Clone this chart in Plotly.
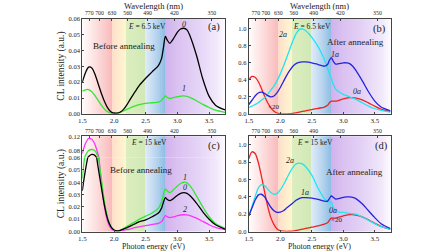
import plotly.graph_objects as go

# ---------------- data ----------------
energy = [1.50, 1.55, 1.60, 1.65, 1.70, 1.75, 1.80, 1.85, 1.90, 1.95, 2.00, 2.05, 2.10, 2.15,
          2.20, 2.25, 2.30, 2.35, 2.40, 2.50, 2.60, 2.70, 2.75, 2.78, 2.81, 2.84, 2.88, 2.93,
          3.00, 3.05, 3.10, 3.15, 3.20, 3.30, 3.40, 3.50, 3.60, 3.75]

# (a) E = 6.5 keV, before annealing
a_0 = [0.020, 0.026, 0.0295, 0.029, 0.025, 0.019, 0.013, 0.0078, 0.0038, 0.0014, 0.0005, 0.0005,
       0.0012, 0.0028, 0.0055, 0.0088, 0.012, 0.015, 0.018, 0.0225, 0.0265, 0.0305, 0.035, 0.042,
       0.0488, 0.0465, 0.0445, 0.047, 0.0515, 0.0535, 0.054, 0.053, 0.049, 0.037, 0.022, 0.011,
       0.0055, 0.0025]
a_1 = [0.0143, 0.0152, 0.0153, 0.0140, 0.0115, 0.0085, 0.0055, 0.0030, 0.0013, 0.0004, 0.0002,
       0.0004, 0.0010, 0.0018, 0.0028, 0.0037, 0.0045, 0.0052, 0.0058, 0.0066, 0.0070, 0.0074,
       0.0085, 0.0100, 0.0113, 0.0103, 0.0097, 0.0102, 0.0108, 0.0112, 0.0113, 0.0111, 0.0103,
       0.0083, 0.0060, 0.0040, 0.0023, 0.0010]
# (b) E = 6.5 keV, after annealing
b_2a = [0.075, 0.09, 0.11, 0.13, 0.16, 0.19, 0.23, 0.28, 0.33, 0.39, 0.47, 0.56, 0.66, 0.76, 0.86,
        0.94, 0.99, 1.0, 0.98, 0.90, 0.79, 0.64, 0.54, 0.47, 0.42, 0.35, 0.29, 0.26, 0.23, 0.215,
        0.20, 0.185, 0.17, 0.13, 0.09, 0.06, 0.04, 0.02]
b_1a = [0.11, 0.16, 0.21, 0.245, 0.255, 0.24, 0.215, 0.20, 0.21, 0.25, 0.31, 0.38, 0.45, 0.51,
        0.56, 0.59, 0.605, 0.61, 0.61, 0.60, 0.58, 0.56, 0.58, 0.63, 0.66, 0.62, 0.585, 0.59, 0.60,
        0.60, 0.59, 0.56, 0.51, 0.39, 0.26, 0.15, 0.08, 0.035]
b_0a = [0.40, 0.44, 0.43, 0.38, 0.30, 0.21, 0.13, 0.07, 0.03, 0.01, 0.003, 0.0, 0.0, 0.002, 0.005,
        0.012, 0.02, 0.028, 0.035, 0.05, 0.065, 0.08, 0.10, 0.13, 0.15, 0.15, 0.15, 0.16, 0.175,
        0.185, 0.19, 0.19, 0.185, 0.165, 0.13, 0.09, 0.055, 0.025]
# (c) E = 15 keV, before annealing
c_0 = [0.033, 0.050, 0.063, 0.069, 0.066, 0.052, 0.036, 0.021, 0.010, 0.004, 0.0012, 0.0005,
       0.001, 0.002, 0.003, 0.0042, 0.0055, 0.0068, 0.008, 0.0095, 0.012, 0.015, 0.019, 0.024,
       0.0275, 0.026, 0.025, 0.0265, 0.0295, 0.031, 0.0315, 0.031, 0.029, 0.023, 0.016, 0.010,
       0.0055, 0.002]
c_1 = [0.043, 0.066, 0.080, 0.083, 0.079, 0.062, 0.043, 0.024, 0.011, 0.004, 0.0012, 0.0005,
       0.0012, 0.0025, 0.004, 0.0055, 0.007, 0.0085, 0.010, 0.0125, 0.015, 0.019, 0.024, 0.030,
       0.0345, 0.033, 0.0315, 0.0335, 0.037, 0.039, 0.040, 0.0395, 0.037, 0.029, 0.020, 0.012,
       0.0065, 0.0025]
c_2 = [0.072, 0.100, 0.114, 0.112, 0.097, 0.068, 0.040, 0.020, 0.008, 0.0025, 0.0006, 0.0003,
       0.0006, 0.001, 0.0015, 0.002, 0.0027, 0.0033, 0.0038, 0.0048, 0.0057, 0.0066, 0.008,
       0.0105, 0.0128, 0.012, 0.0113, 0.0118, 0.0128, 0.0134, 0.0136, 0.0135, 0.0128, 0.0108,
       0.0082, 0.0055, 0.0033, 0.0015]
# (d) E = 15 keV, after annealing
d_0a = [0.84, 0.92, 0.90, 0.80, 0.64, 0.46, 0.29, 0.16, 0.08, 0.03, 0.01, 0.004, 0.002, 0.003,
        0.005, 0.012, 0.02, 0.028, 0.035, 0.05, 0.065, 0.085, 0.10, 0.13, 0.155, 0.155, 0.155,
        0.165, 0.18, 0.19, 0.195, 0.195, 0.19, 0.17, 0.135, 0.095, 0.06, 0.025]
d_2a = [0.18, 0.29, 0.40, 0.50, 0.54, 0.53, 0.49, 0.45, 0.43, 0.44, 0.48, 0.54, 0.61, 0.68, 0.74,
        0.78, 0.79, 0.78, 0.75, 0.65, 0.50, 0.38, 0.34, 0.345, 0.34, 0.28, 0.245, 0.225, 0.22,
        0.215, 0.21, 0.205, 0.20, 0.17, 0.13, 0.09, 0.055, 0.025]
d_1a = [0.18, 0.27, 0.36, 0.42, 0.43, 0.40, 0.34, 0.28, 0.24, 0.22, 0.225, 0.24, 0.27, 0.30, 0.33,
        0.36, 0.38, 0.39, 0.39, 0.385, 0.37, 0.35, 0.35, 0.38, 0.41, 0.395, 0.375, 0.38, 0.395,
        0.40, 0.40, 0.395, 0.38, 0.32, 0.24, 0.16, 0.09, 0.035]

energy_ticks = [1.5, 2.0, 2.5, 3.0, 3.5]
wavelength_ticks = [770, 700, 630, 560, 490, 420, 350]

# background spectral colour stops (energy, rgb); repeated energies = band edges
spectrum_stops = [
    (1.50, (255, 252, 252)), (1.70, (253, 225, 225)), (1.90, (250, 196, 196)), (1.97, (249, 186, 188)),
    (1.97, (253, 222, 204)), (2.08, (255, 236, 205)), (2.18, (255, 246, 208)),
    (2.18, (220, 238, 192)), (2.48, (210, 232, 182)),
    (2.48, (226, 237, 249)), (2.65, (188, 214, 239)), (2.80, (142, 190, 229)),
    (2.80, (208, 178, 236)), (3.00, (219, 194, 241)), (3.30, (228, 210, 246)),
    (3.60, (241, 232, 251)), (3.75, (253, 251, 255)),
]

# ---------------- figure ----------------
W, H = 448, 252
SERIF = "Liberation Serif"
TXT = "#222222"
AX = "#444444"

def fx(p):
    return p / W

def fy(p):
    return 1 - p / H

XA = [fx(79), fx(223)]
XB = [fx(247), fx(390)]
YTOP = [fy(113), fy(15)]
YC_LO = [fy(234), fy(158)]
YC_HI = [fy(158), fy(136)]
YD = [fy(234), fy(136)]

fig = go.Figure()

# background gradient as heatmap
step = 0.01
n = int(round((3.75 - 1.5) / step))
centers = [1.5 + step * (i + 0.5) for i in range(n)]

def color_at(e):
    for i in range(len(spectrum_stops) - 1):
        e0, c0 = spectrum_stops[i]
        e1, c1 = spectrum_stops[i + 1]
        if e0 <= e <= e1 and e1 > e0:
            t = (e - e0) / (e1 - e0)
            return tuple(int(round(c0[k] + (c1[k] - c0[k]) * t)) for k in range(3))
    return spectrum_stops[-1][1]

cols = [color_at(e) for e in centers]
cscale = [[i / (n - 1), "rgb(%d,%d,%d)" % c] for i, c in enumerate(cols)]
zrow = list(range(n))

def background(xa, ya, lo, hi):
    fig.add_trace(go.Heatmap(x=centers, y=[lo, hi], z=[zrow, zrow], colorscale=cscale,
                             zmin=0, zmax=n - 1, showscale=False, hoverinfo="skip",
                             zsmooth=False, xaxis=xa, yaxis=ya))

background("x", "y", 0, 0.06)
background("x3", "y2", 0, 1.12)
background("x5", "y3", 0, 0.06)
background("x5", "y4", 0.06, 0.12)
background("x7", "y5", 0, 1.1)

BLACK = "#000000"
GREEN = "#33e633"
MAGENTA = "#ff33ff"
BLUE = "#2424e0"
CYAN = "#1ee6f0"
RED = "#ee2222"

def curve(y, color, xa, ya):
    fig.add_trace(go.Scatter(x=energy, y=y, mode="lines", hoverinfo="skip",
                             line=dict(color=color, width=1.3, shape="spline", smoothing=0.8),
                             xaxis=xa, yaxis=ya))

curve(a_1, GREEN, "x", "y")
curve(a_0, BLACK, "x", "y")
curve(b_0a, RED, "x3", "y2")
curve(b_2a, CYAN, "x3", "y2")
curve(b_1a, BLUE, "x3", "y2")
for ya in ("y3", "y4"):
    curve(c_2, MAGENTA, "x5", ya)
    curve(c_1, GREEN, "x5", ya)
    curve(c_0, BLACK, "x5", ya)
curve(d_0a, RED, "x7", "y5")
curve(d_2a, CYAN, "x7", "y5")
curve(d_1a, BLUE, "x7", "y5")

# dummy traces to host the top wavelength axes
wl_energy = [1239.84 / w for w in wavelength_ticks]
for xa, ya in (("x2", "y"), ("x4", "y2"), ("x6", "y4"), ("x8", "y5")):
    fig.add_trace(go.Scatter(x=wl_energy, y=[None] * len(wl_energy), mode="markers",
                             marker=dict(opacity=0), hoverinfo="skip", xaxis=xa, yaxis=ya))

tickfont = dict(family=SERIF, size=7, color=TXT)
ytickfont = dict(family=SERIF, size=6.5, color=TXT)
toptickfont = dict(family=SERIF, size=5.8, color=TXT)

def xbottom(domain, anchor, mirror=True):
    return dict(domain=domain, anchor=anchor, range=[1.5, 3.75], tickvals=energy_ticks,
                ticktext=["%.1f" % v for v in energy_ticks], ticks="inside", ticklen=2,
                tickcolor=AX, showline=True, linecolor=AX, linewidth=1, mirror=mirror,
                showgrid=False, zeroline=False, tickfont=tickfont, tickangle=0, fixedrange=True)

def xtop(domain, anchor):
    return dict(domain=domain, anchor=anchor, side="top", range=[1.5, 3.75], tickvals=wl_energy,
                ticktext=[str(w) for w in wavelength_ticks], ticks="inside", ticklen=2,
                tickcolor=AX, showline=True, linecolor=AX, linewidth=1, tickangle=0,
                showgrid=False, zeroline=False, tickfont=toptickfont, fixedrange=True)

def yax(domain, anchor, rng, vals, fmt):
    return dict(domain=domain, anchor=anchor, range=rng, tickvals=vals,
                ticktext=[fmt % v for v in vals], ticks="inside", ticklen=2, tickcolor=AX,
                showline=True, linecolor=AX, linewidth=1, mirror=True, showgrid=False,
                zeroline=False, tickfont=ytickfont, fixedrange=True)

fig.update_layout(
    width=W, height=H, margin=dict(l=0, r=0, t=0, b=0),
    paper_bgcolor="white", plot_bgcolor="rgba(0,0,0,0)", showlegend=False,
    xaxis=xbottom(XA, "y"), xaxis2=xtop(XA, "y"),
    xaxis3=xbottom(XB, "y2"), xaxis4=xtop(XB, "y2"),
    xaxis5=xbottom(XA, "y3", mirror=False), xaxis6=xtop(XA, "y4"),
    xaxis7=xbottom(XB, "y5"), xaxis8=xtop(XB, "y5"),
    yaxis=yax(YTOP, "x", [0, 0.0601], [0, 0.01, 0.02, 0.03, 0.04, 0.05, 0.06], "%.2f"),
    yaxis2=yax(YTOP, "x3", [0, 1.12], [0, 0.2, 0.4, 0.6, 0.8, 1.0], "%.1f"),
    yaxis3=yax(YC_LO, "x5", [0, 0.06], [0, 0.01, 0.02, 0.03, 0.04, 0.05, 0.06], "%.2f"),
    yaxis4=yax(YC_HI, "x5", [0.06, 0.1205], [0.08, 0.12], "%.2f"),
    yaxis5=yax(YD, "x7", [0, 1.1], [0, 0.2, 0.4, 0.6, 0.8, 1.0], "%.1f"),
)

ann = []

def txt(x, y, s, xref, yref, size=8, **kw):
    d = dict(x=x, y=y, text=s, xref=xref, yref=yref, showarrow=False,
             xanchor="center", yanchor="middle", borderpad=0,
             font=dict(family=SERIF, size=size, color=TXT))
    d.update(kw)
    ann.append(d)

# axis titles
for xc in (151, 318):
    txt(fx(xc), fy(2), "Wavelength (nm)", "paper", "paper", size=8.5)
    txt(fx(xc), fy(249), "Photon energy (eV)", "paper", "paper", size=8)
for yc in (64, 185):
    txt(fx(58), fy(yc), "CL intensity (a.u.)", "paper", "paper", size=9.5, textangle=-90)

# panel (a)
txt(2.52, 0.0553, "<i>E</i> = 6.5 keV", "x", "y", size=7.5)
txt(2.15, 0.043, "Before annealing", "x", "y", size=9)
txt(3.10, 0.0565, "<i>0</i>", "x", "y")
txt(3.10, 0.0158, "<i>1</i>", "x", "y")
txt(3.58, 0.0545, "(a)", "x", "y", size=10.5)
# panel (b)
txt(2.51, 1.03, "<i>E</i> = 6.5 keV", "x3", "y2", size=7.5)
txt(3.58, 1.0, "(b)", "x3", "y2", size=10.5)
txt(3.20, 0.85, "After annealing", "x3", "y2", size=9)
txt(2.05, 0.93, "<i>2a</i>", "x3", "y2")
txt(2.87, 0.70, "<i>1a</i>", "x3", "y2")
txt(3.21, 0.26, "<i>0a</i>", "x3", "y2")
txt(1.90, 0.08, "×20", "x3", "y2", size=7)
# panel (c)
txt(2.55, 0.104, "<i>E</i> = 15 keV", "x5", "y4", size=7.5)
txt(3.58, 0.093, "(c)", "x5", "y4", size=10.5)
txt(2.42, 0.0497, "Before annealing", "x5", "y3", size=9)
txt(3.12, 0.0438, "<i>1</i>", "x5", "y3")
txt(3.12, 0.0358, "<i>0</i>", "x5", "y3")
txt(3.12, 0.0178, "<i>2</i>", "x5", "y3")
# panel (d)
txt(2.55, 1.03, "<i>E</i> = 15 keV", "x7", "y5", size=7.5)
txt(3.60, 0.99, "(d)", "x7", "y5", size=10.5)
txt(3.18, 0.69, "After annealing", "x7", "y5", size=9)
txt(2.16, 0.82, "<i>2a</i>", "x7", "y5")
txt(2.40, 0.45, "<i>1a</i>", "x7", "y5")
txt(2.84, 0.245, "<i>0a</i>", "x7", "y5")
txt(2.90, 0.135, "×20", "x7", "y5", size=7)

fig.update_layout(annotations=ann)
fig.write_html(
    "out.html",
    config={"displayModeBar": False, "staticPlot": True},
    post_script="document.body.style.margin='0px';document.body.style.overflow='hidden';",
)
